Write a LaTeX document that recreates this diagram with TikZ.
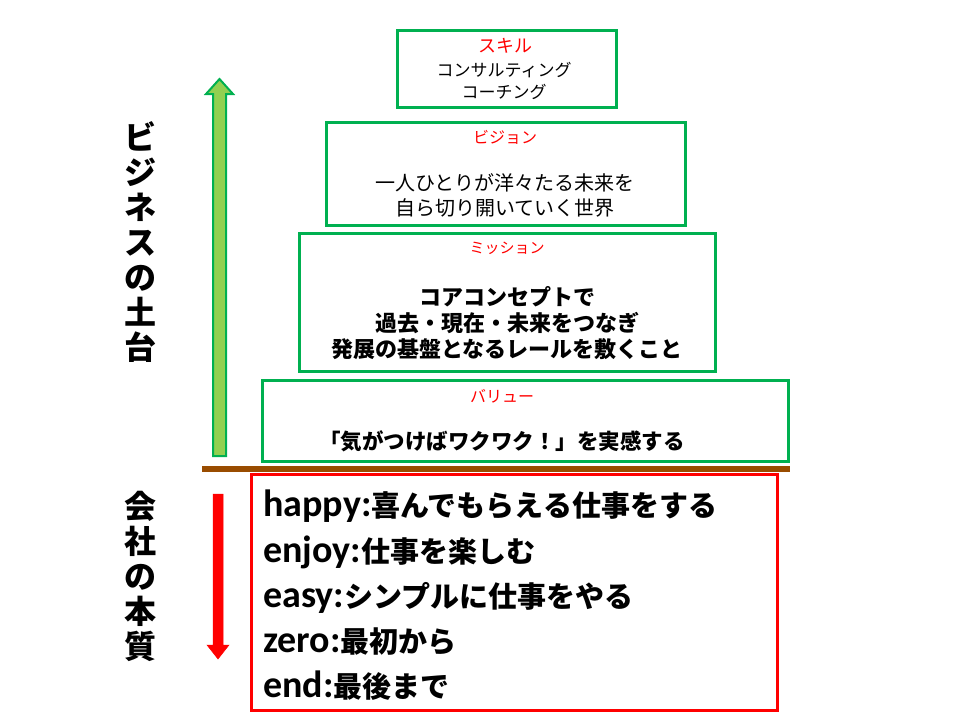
\documentclass[tikz,border=0pt]{standalone}
\usepackage{fontspec}
\newfontfamily\jp{Noto Sans CJK JP}
\newfontfamily\lat{Carlito}
\definecolor{boxgreen}{RGB}{0,176,80}
\definecolor{lightgreen}{RGB}{146,208,80}
\definecolor{rail}{RGB}{153,76,0}
\newcommand{\word}[1]{{\lat\bfseries\fontsize{38}{45.25}\selectfont #1}}
\tikzset{
  greenbox/.style={draw=boxgreen, line width=3pt, inner sep=0pt},
  redbox/.style={draw=red, line width=3pt, inner sep=0pt},
  title/.style={text=red, font=\jp\fontsize{16}{18}\selectfont, inner sep=0pt},
  body/.style={align=center, inner sep=0pt},
  side/.style={align=center, inner sep=0pt, font=\jp\bfseries\fontsize{32}{35}\selectfont}
}
\begin{document}
\begin{tikzpicture}[x=1pt, y=-1pt]
  \useasboundingbox (0,0) rectangle (960,720);
  \node [greenbox, minimum width=219, minimum height=77] (skill) at (506.5,68.5) {};
  \node [greenbox, minimum width=359, minimum height=103] (vision) at (505.5,173.5) {};
  \node [greenbox, minimum width=416, minimum height=138] (mission) at (507,302) {};
  \node [greenbox, minimum width=526, minimum height=81] (value) at (525,420.5) {};
  \node [redbox, minimum width=526, minimum height=236] (core) at (514,592) {};

  \node [title, font=\jp\fontsize{18}{20}\selectfont] (skilltitle) at (505,46) {スキル};
  \node [body, font=\jp\fontsize{17}{22}\selectfont] (skilltext) at (504,81) {コンサルティング\\コーチング};
  \node [title] (visiontitle) at (505,137) {ビジョン};
  \node [body, font=\jp\fontsize{20}{25}\selectfont] (visiontext) at (505,195) {一人ひとりが洋々たる未来を\\自ら切り開いていく世界};
  \node [title, font=\jp\fontsize{15}{18}\selectfont] (missiontitle) at (507,248) {ミッション};
  \node [body, font=\jp\bfseries\fontsize{22}{26}\selectfont] (missiontext) at (507,323) {コアコンセプトで\\過去・現在・未来をつなぎ\\発展の基盤となるレールを敷くこと};
  \node [title] (valuetitle) at (502,396) {バリュー};
  \node [body, font=\jp\bfseries\fontsize{21.5}{26}\selectfont] (valuetext) at (502,441) {「気がつけばワクワク！」を実感する};

  \node [anchor=north west, align=left, inner sep=0pt, font=\jp\bfseries\fontsize{29}{45.25}\selectfont] (coretext) at (263,490)
    {\word{happy:}喜んでもらえる仕事をする\\
     \word{enjoy:}仕事を楽しむ\\
     \word{easy:}シンプルに仕事をやる\\
     \word{zero:}最初から\\
     \word{end:}最後まで};

  \node [side] (base) at (140,242) {ビ\\ジ\\ネ\\ス\\の\\土\\台};
  \node [side] (essence) at (140,576) {会\\社\\の\\本\\質};

  \draw [rail, line width=6pt] (202,469) -- (790,469);

  \draw [boxgreen, fill=lightgreen, line width=2pt, line join=miter]
    (213,456) -- (213,94) -- (206,94) -- (219.5,79) -- (233,94) -- (226,94) -- (226,456) -- cycle;
  \draw [red, fill=red, line width=0.5pt]
    (213,494) -- (213,645) -- (207,645) -- (218,659) -- (229,645) -- (223,645) -- (223,494) -- cycle;
\end{tikzpicture}
\end{document}
